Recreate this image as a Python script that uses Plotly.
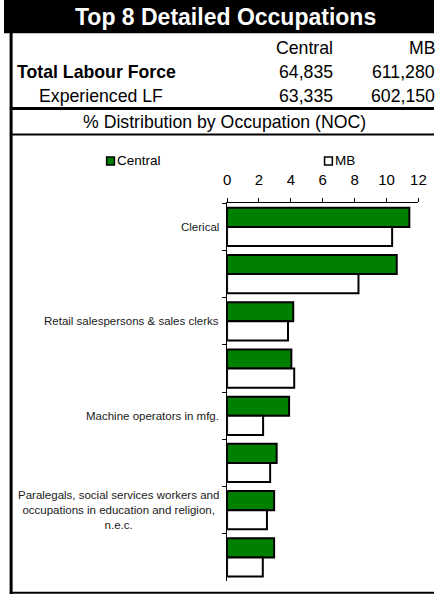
import plotly.graph_objects as go

W, H = 442, 594

# ---------------- data ----------------
categories = [
    "Clerical",
    "Occupation 2",
    "Retail salespersons & sales clerks",
    "Occupation 4",
    "Machine operators in mfg.",
    "Occupation 6",
    "Paralegals, social services workers and occupations in education and religion, n.e.c.",
    "Occupation 8",
]
category_labels = [
    "Clerical",
    "",
    "Retail salespersons & sales clerks",
    "",
    "Machine operators in mfg.",
    "",
    "Paralegals, social services workers and<br>occupations in education and religion,<br>n.e.c.",
    "",
]
central = [11.43, 10.64, 4.15, 4.03, 3.89, 3.11, 2.95, 2.95]
mb = [10.35, 8.24, 3.82, 4.21, 2.26, 2.70, 2.50, 2.24]
x_ticks = [0, 2, 4, 6, 8, 10, 12]
series_names = ["Central", "MB"]
series_colors = ["#008000", "#ffffff"]

title_text = "Top 8 Detailed Occupations"
table_rows = ["Total Labour Force", "Experienced LF"]
central_counts = ["64,835", "63,335"]
mb_counts = ["611,280", "602,150"]
section_title = "% Distribution by Occupation (NOC)"

FONT = "Liberation Sans, Arial, sans-serif"


def px_x(p):
    return p / W


def px_y(p):
    return 1 - p / H


fig = go.Figure()
for name, vals, col in zip(series_names, [central, mb], series_colors):
    fig.add_trace(go.Bar(
        y=categories, x=vals, orientation="h", name=name,
        marker=dict(color=col, line=dict(color="black", width=2)),
        showlegend=False, hoverinfo="skip",
    ))

shapes = []
annotations = []

# title band
shapes.append(dict(type="rect", xref="paper", yref="paper",
                   x0=0, x1=1, y0=px_y(33.3), y1=1,
                   fillcolor="black", line=dict(width=0), layer="below"))
annotations.append(dict(xref="paper", yref="paper", x=px_x(228), y=px_y(17),
                        text="<b>" + title_text + "</b>", showarrow=False,
                        font=dict(family=FONT, size=23, color="white"),
                        xanchor="center", yanchor="middle"))

# border lines
shapes += [
    dict(type="line", xref="paper", yref="paper", x0=px_x(7.3), x1=px_x(7.3),
         y0=px_y(33), y1=0, line=dict(color="black", width=3)),
    dict(type="line", xref="paper", yref="paper", x0=px_x(6), x1=1,
         y0=px_y(108.5), y1=px_y(108.5), line=dict(color="black", width=3)),
    dict(type="line", xref="paper", yref="paper", x0=px_x(6), x1=1,
         y0=px_y(134.5), y1=px_y(134.5), line=dict(color="black", width=2)),
    dict(type="line", xref="paper", yref="paper", x0=px_x(6), x1=1,
         y0=px_y(592.8), y1=px_y(592.8), line=dict(color="black", width=2)),
]

# table header and rows
TS = 17.7
tfont = dict(family=FONT, size=TS, color="black")
annotations.append(dict(xref="paper", yref="paper", x=px_x(340), y=px_y(47.7),
                        text=series_names[0], showarrow=False, font=tfont,
                        xanchor="right", yanchor="middle"))
annotations.append(dict(xref="paper", yref="paper", x=px_x(446), y=px_y(47.7),
                        text=series_names[1], showarrow=False, font=tfont,
                        xanchor="right", yanchor="middle"))
row_y = [72.3, 96]
row_x = [11, 34]
row_bold = [True, False]
for lbl, c, m, yy, xx, b in zip(table_rows, central_counts, mb_counts, row_y, row_x, row_bold):
    annotations.append(dict(xref="paper", yref="paper", x=px_x(xx), y=px_y(yy),
                            text=("<b>%s</b>" % lbl) if b else lbl, showarrow=False,
                            font=tfont, xanchor="left", yanchor="middle"))
    annotations.append(dict(xref="paper", yref="paper", x=px_x(340), y=px_y(yy),
                            text=c, showarrow=False, font=tfont,
                            xanchor="right", yanchor="middle"))
    annotations.append(dict(xref="paper", yref="paper", x=px_x(445), y=px_y(yy),
                            text=m, showarrow=False, font=tfont,
                            xanchor="right", yanchor="middle"))

annotations.append(dict(xref="paper", yref="paper", x=px_x(79), y=px_y(122),
                        text=section_title, showarrow=False, font=tfont,
                        xanchor="left", yanchor="middle"))

# legend (swatch + label)
leg_x = [105, 329]
for name, col, lx in zip(series_names, series_colors, leg_x):
    shapes.append(dict(type="rect", xref="paper", yref="paper",
                       x0=px_x(lx + 0.5), x1=px_x(lx + 8.5),
                       y0=px_y(165), y1=px_y(157),
                       fillcolor=col, line=dict(color="black", width=1.5)))
    annotations.append(dict(xref="paper", yref="paper", x=px_x(lx + 9), y=px_y(161),
                            text=name, showarrow=False,
                            font=dict(family=FONT, size=13.5, color="black"),
                            xanchor="left", yanchor="middle"))

# category labels
for cat, lbl in zip(categories, category_labels):
    if lbl:
        annotations.append(dict(xref="paper", yref="y", x=px_x(223), y=cat,
                                text=lbl, showarrow=False, align="center",
                                font=dict(family=FONT, size=11.5, color="#1a1a1a"),
                                xanchor="right", yanchor="middle"))

fig.update_layout(
    width=W, height=H, autosize=False,
    margin=dict(l=0, r=0, t=0, b=0),
    paper_bgcolor="white", plot_bgcolor="white",
    barmode="group", bargap=0.19, bargroupgap=0,
    hovermode=False,
    shapes=shapes, annotations=annotations,
    xaxis=dict(domain=[px_x(229.3), px_x(426)], range=[0, 12], side="top",
               tickvals=x_ticks, ticks="outside", ticklen=4, tickcolor="black",
               showline=True, linecolor="black", linewidth=1,
               showgrid=False, zeroline=False, ticklabelstandoff=7,
               tickfont=dict(family=FONT, size=15, color="black")),
    yaxis=dict(domain=[1 - 581 / H, 1 - 203.3 / H], autorange="reversed",
               type="category", categoryorder="array", categoryarray=categories,
               showticklabels=False, ticks="outside", ticklen=4, tickcolor="black",
               tickson="boundaries", showline=True, linecolor="black", linewidth=1,
               showgrid=False, zeroline=False),
)

fig.write_html(
    "out.html",
    config={"displayModeBar": False, "staticPlot": True},
    post_script=(
        "var de=document.documentElement, b=document.body;"
        "de.style.margin='0';de.style.padding='0';de.style.overflow='hidden';"
        "b.style.margin='0';b.style.padding='0';b.style.overflow='hidden';"
        "var g=document.getElementById('{plot_id}');"
        "g.style.position='fixed';g.style.left='0px';g.style.top='0px';"
    ),
)
